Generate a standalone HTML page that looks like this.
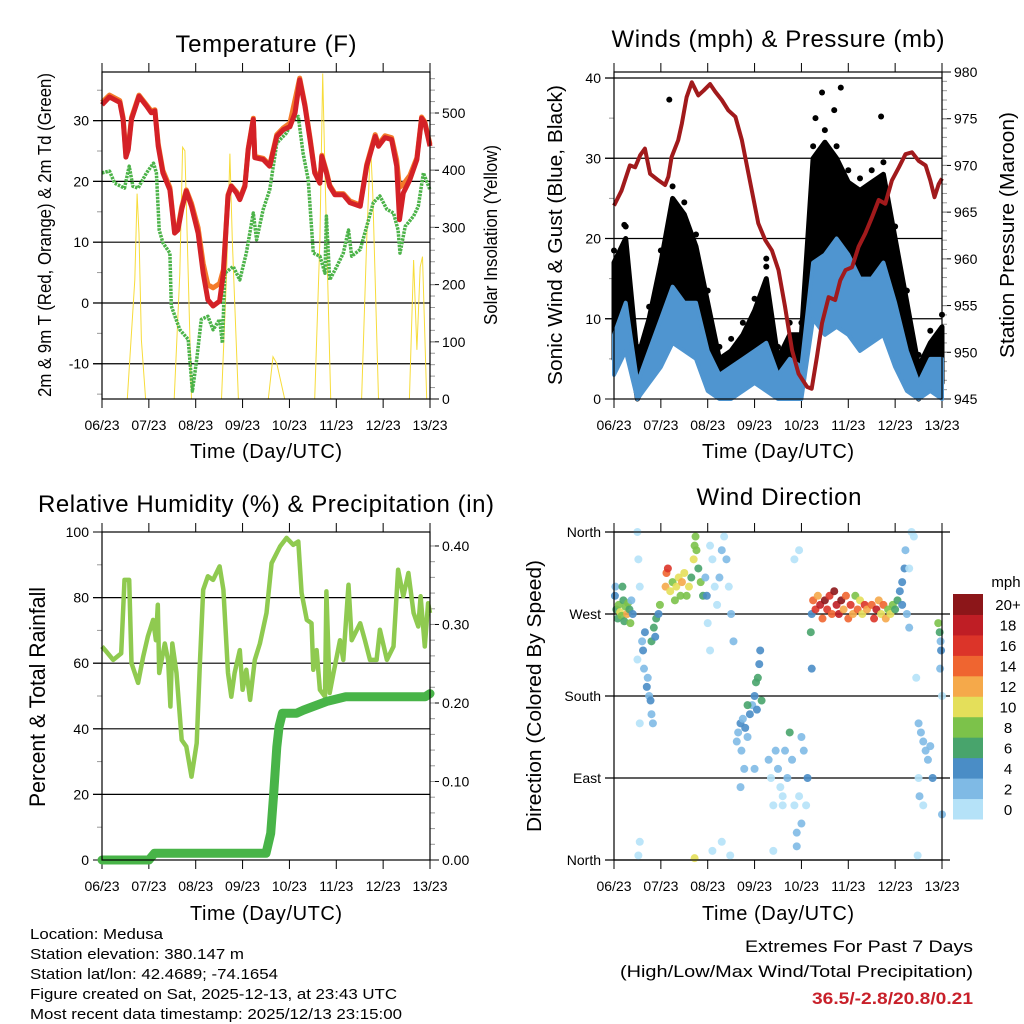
<!DOCTYPE html>
<html><head><meta charset="utf-8"><title>Station Meteogram</title>
<style>
html,body{margin:0;padding:0;background:#fff;}
#root{position:relative;width:1024px;height:1024px;overflow:hidden;font-family:"Liberation Sans",sans-serif;}
svg text{font-family:"Liberation Sans",sans-serif;fill:#000;}
</style></head>
<body>
<div id="root">
<svg id="svg" width="1024" height="1024" viewBox="0 0 1024 1024" xmlns="http://www.w3.org/2000/svg">
<text x="266" y="52" font-size="24" text-anchor="middle" textLength="181">Temperature (F)</text>
<text x="778" y="47" font-size="24" text-anchor="middle" textLength="333">Winds (mph) &amp; Pressure (mb)</text>
<text x="266" y="512" font-size="24" text-anchor="middle" textLength="456">Relative Humidity (%) &amp; Precipitation (in)</text>
<text x="779" y="505" font-size="24" text-anchor="middle" textLength="165">Wind Direction</text>

<text x="266" y="458" font-size="20" text-anchor="middle" textLength="152">Time (Day/UTC)</text>
<text x="778" y="458" font-size="20" text-anchor="middle" textLength="152">Time (Day/UTC)</text>
<text x="266" y="920" font-size="20" text-anchor="middle" textLength="152">Time (Day/UTC)</text>
<text x="778" y="920" font-size="20" text-anchor="middle" textLength="152">Time (Day/UTC)</text>

<text transform="translate(51,235) rotate(-90)" font-size="18" text-anchor="middle" textLength="324" lengthAdjust="spacingAndGlyphs">2m &amp; 9m T (Red, Orange) &amp; 2m Td (Green)</text>
<text transform="translate(497,235) rotate(-90)" font-size="18" text-anchor="middle" textLength="180" lengthAdjust="spacingAndGlyphs">Solar Insolation (Yellow)</text>
<text transform="translate(562,235) rotate(-90)" font-size="20" text-anchor="middle" textLength="300" lengthAdjust="spacingAndGlyphs">Sonic Wind &amp; Gust (Blue, Black)</text>
<text transform="translate(1014,235) rotate(-90)" font-size="20" text-anchor="middle" textLength="246" lengthAdjust="spacingAndGlyphs">Station Pressure (Maroon)</text>
<text transform="translate(45,697) rotate(-90)" font-size="22" text-anchor="middle" textLength="220" lengthAdjust="spacingAndGlyphs">Percent &amp; Total Rainfall</text>
<text transform="translate(541,696) rotate(-90)" font-size="20" text-anchor="middle" textLength="272" lengthAdjust="spacingAndGlyphs">Direction (Colored By Speed)</text>

<g font-size="15">
<text x="30" y="939" textLength="133" lengthAdjust="spacingAndGlyphs">Location: Medusa</text>
<text x="30" y="959" textLength="214" lengthAdjust="spacingAndGlyphs">Station elevation: 380.147 m</text>
<text x="30" y="979" textLength="248" lengthAdjust="spacingAndGlyphs">Station lat/lon: 42.4689; -74.1654</text>
<text x="30" y="999" textLength="367" lengthAdjust="spacingAndGlyphs">Figure created on Sat, 2025-12-13, at 23:43 UTC</text>
<text x="30" y="1019" textLength="372" lengthAdjust="spacingAndGlyphs">Most recent data timestamp: 2025/12/13 23:15:00</text>
</g>
<text x="973" y="952" font-size="17" text-anchor="end" textLength="228" lengthAdjust="spacingAndGlyphs">Extremes For Past 7 Days</text>
<text x="973" y="977" font-size="17" text-anchor="end" textLength="353" lengthAdjust="spacingAndGlyphs">(High/Low/Max Wind/Total Precipitation)</text>
<text x="973" y="1004" font-size="17" font-weight="bold" text-anchor="end" style="fill:#c8202a" textLength="161" lengthAdjust="spacingAndGlyphs">36.5/-2.8/20.8/0.21</text>
</svg>
</div>
<script>
// ---------- data ----------
const dayLabels = ['06/23','07/23','08/23','09/23','10/23','11/23','12/23','13/23'];

const tempTimes = [0,0.16,0.38,0.45,0.51,0.56,0.63,0.79,0.95,1.05,1.13,1.20,1.30,1.45,1.55,1.62,1.70,1.80,1.91,2.05,2.16,2.26,2.37,2.51,2.59,2.69,2.76,2.87,2.94,3.05,3.12,3.23,3.26,3.44,3.58,3.73,3.87,4.01,4.12,4.22,4.33,4.44,4.54,4.65,4.69,4.79,4.86,4.97,5.15,5.29,5.51,5.65,5.83,5.90,6.04,6.18,6.29,6.35,6.43,6.57,6.72,6.82,6.89,7.0];
const temp2m = [32.6,33.9,33,30.2,24,25.2,30.2,34,32.4,31.3,31.6,25.8,21.4,18.6,11.5,12,15.4,18.4,15.9,11.5,4.9,0.5,-0.5,0.3,4.9,17.6,19.2,18.1,17,19.2,25.2,30.2,23.9,23.6,22.5,27.4,28.5,29,31.3,36.7,32.4,26.9,21.4,19.7,24.1,21.4,19.2,17.8,17.8,16.5,15.9,22.5,27.4,25.8,27.2,26.9,22.5,13.7,18.1,20.3,23.6,30.4,29.6,25.8];
const temp9m = [33,34.2,33.3,30.5,24.5,25.5,30.5,34.2,32.6,31.6,31.8,26.2,21.8,19,11.8,12.3,15.8,18.6,16.4,12.4,6.5,3,2.5,3.2,5.5,17.8,19.3,18.3,17.2,19.4,25.4,30.4,24.1,23.8,22.7,27.7,28.8,29.6,33.5,37,32.7,27.2,21.7,20,24.3,21.7,19.4,18,18,16.8,16.1,22.8,27.7,26.1,27.5,27.2,23.5,19,19.5,21,23.9,30.6,29.8,26.1];

const dewTimes = [0,0.16,0.27,0.48,0.58,0.66,0.77,0.95,1.10,1.16,1.22,1.30,1.45,1.48,1.66,1.84,1.93,2.02,2.12,2.26,2.37,2.51,2.57,2.62,2.80,2.94,3.08,3.23,3.30,3.44,3.58,3.73,3.94,4.08,4.19,4.29,4.40,4.51,4.65,4.76,4.79,4.86,5.01,5.15,5.26,5.33,5.51,5.65,5.79,5.93,6.08,6.22,6.32,6.36,6.47,6.65,6.75,6.86,7.0];
const dew2m = [21.4,21.7,19.7,18.9,22.5,19.2,18.9,21.4,23,21.4,12,9.9,8.2,-0.5,-4.4,-6,-14.5,-9.3,-2.7,-2.2,-4.4,-2.7,-6.6,4.9,6,3.8,8.2,14.8,10.4,15.4,18.6,26.3,28,30.2,30.7,24.7,20.3,8.2,7.7,4.9,14.3,3.8,6,8.2,12,7.7,8.8,12.6,16.5,17.6,15.4,14.8,12,8.2,12.6,14.3,15.9,21.4,18.6];

const solarTimes = [0,0.54,0.65,0.70,0.75,0.79,0.84,0.93,1.54,1.66,1.72,1.77,1.84,1.91,2.55,2.66,2.73,2.78,2.91,3.55,3.65,3.73,3.90,4.54,4.65,4.71,4.76,4.88,5.54,5.65,5.73,5.78,5.90,6.56,6.65,6.72,6.79,6.84,6.93,7.0];
const solarVals = [0,0,144,208,359,289,103,0,0,219,440,434,219,0,0,219,429,278,0,0,74,62,0,0,278,569,394,0,0,278,446,358,0,0,243,86,231,249,0,0];

const windTimes = [0,0.25,0.5,0.75,1.0,1.25,1.5,1.75,2.0,2.25,2.5,2.75,3.0,3.25,3.5,3.75,4.0,4.25,4.5,4.75,5.0,5.25,5.5,5.75,6.0,6.25,6.5,6.75,7.0];
const gustLow = [5,9,0,3,7,12,13,10,3,1,2,3,4,4,1,2,2,17,18,17,16,14,14,15,8,4,0,3,2];
const gustHigh = [17,20,5,10,17,25,23,19,12,5,6,8,11,15,5,8,8,30,32,30,27,26,27,28,20,12,4,7,9];
const windLow = [3,6,0,2,4,7,6,5,1,0,0,1,2,1,0,0,0,10,8,9,8,6,7,8,4,1,0,1,0];
const windHigh = [8,12,2,6,10,14,12,12,6,3,4,5,6,7,3,5,4,17,18,20,18,15,15,17,12,6,2,5,5];
const gustOutlierTimes = [1.18,4.44,4.84,4.70,5.70,4.30,0.22,3.25];
const gustOutlierVals = [37.3,38.2,38.8,36,35.2,35,21.7,17.5];

const presTimes = [0,0.16,0.34,0.45,0.56,0.66,0.77,0.95,1.09,1.16,1.23,1.37,1.45,1.55,1.66,1.80,1.91,2.05,2.16,2.30,2.44,2.59,2.73,2.87,3.08,3.23,3.37,3.51,3.65,3.80,3.94,4.12,4.22,4.33,4.44,4.58,4.72,4.83,4.94,5.08,5.22,5.36,5.51,5.65,5.79,5.93,6.08,6.22,6.36,6.50,6.65,6.75,6.84,6.93,7.0];
const presVals = [965.7,967.3,970.0,969.8,971.1,971.8,969.1,968.4,967.9,968.8,970.9,972.7,974.5,977.3,978.9,977.5,978.0,978.7,977.9,977.0,975.9,975.2,972.7,969.1,963.8,962.0,960.9,958.8,954.9,950.2,947.7,946.3,946.1,949.5,953.1,955.9,955.6,957.7,958.8,959.1,961.3,962.7,964.5,966.3,965.9,968.4,969.8,971.2,971.4,970.5,970.0,968.4,966.6,968.0,968.6];

const rhTimes = [0,0.09,0.24,0.41,0.48,0.58,0.63,0.77,0.88,0.98,1.09,1.15,1.19,1.22,1.34,1.41,1.46,1.50,1.59,1.70,1.80,1.91,2.02,2.09,2.16,2.26,2.37,2.51,2.59,2.69,2.76,2.83,2.94,3.0,3.08,3.16,3.26,3.37,3.51,3.62,3.80,3.94,4.08,4.19,4.26,4.37,4.47,4.51,4.58,4.65,4.76,4.79,4.86,4.94,5.08,5.15,5.26,5.33,5.51,5.61,5.72,5.86,5.93,6.08,6.22,6.32,6.43,6.54,6.65,6.75,6.80,6.89,6.96,7.0];
const rhVals = [65.1,63.6,61,63,85.4,85.4,60,54,62,68.2,73.2,67,77.8,57,66,61,46.8,66,57,36.6,34.6,25.4,35.6,60,82.4,86.5,85.4,89.5,82.4,57,49.8,57,64,51.9,58,48.8,61,66,75.3,90.5,95.6,98.2,96.1,97.1,81.4,73.2,72.2,58,64,51.9,49.8,81.9,50.9,57,67,61,83.9,67,72.2,67,61,61,70.2,61,65.1,88.5,80.4,87.5,75.3,71.2,80.4,65.1,78.3,75.3];

const precipTimes = [0,1.0,1.12,3.5,3.6,3.66,3.73,3.78,3.85,3.95,4.15,4.3,4.8,5.2,6.9,7.0];
const precipVals = [0,0,0.0085,0.0085,0.034,0.081,0.144,0.17,0.187,0.187,0.187,0.191,0.202,0.208,0.208,0.212];

const dirTimes = [0.02,0.05,0.08,0.1,0.13,0.16,0.2,0.22,0.25,0.28,0.3,0.33,0.37,0.4,0.03,0.18,0.35,
0.5,0.52,0.55,0.5,0.6,0.62,0.64,0.66,0.7,0.72,0.75,0.78,0.8,0.83,0.8,0.85,0.9,0.95,0.98,0.88,0.55,0.55,0.52,
1.1,1.12,1.15,1.2,1.25,1.3,1.33,1.38,1.42,1.45,1.5,1.55,1.6,1.65,1.7,1.72,1.74,1.76,1.8,1.85,1.9,1.95,1.98,1.72,
2.0,2.05,2.1,2.15,2.2,2.25,2.3,2.35,2.4,2.45,2.5,2.55,2.05,2.1,2.3,2.48,
2.62,2.65,2.7,2.75,2.8,2.85,2.9,2.95,2.72,2.78,2.85,3.0,3.03,3.07,3.1,3.12,3.15,3.05,3.0,2.7,
3.3,3.35,3.4,3.45,3.5,3.55,3.6,3.65,3.7,3.75,3.8,3.85,3.9,3.95,4.0,4.05,4.1,4.13,3.4,3.9,3.95,3.85,4.0,3.6,
4.22,4.25,4.3,4.35,4.4,4.45,4.5,4.55,4.6,4.65,4.7,4.75,4.8,4.85,4.9,4.95,5.0,5.05,5.1,5.15,5.2,5.25,5.3,5.35,5.4,5.5,5.55,5.6,5.65,5.7,5.75,5.8,5.85,5.9,5.95,4.2,4.22,
6.0,6.05,6.1,6.15,6.2,6.22,6.15,6.25,6.3,6.3,6.35,6.4,
6.5,6.55,6.6,6.65,6.7,6.75,6.5,6.52,6.6,6.45,6.8,6.48,
6.92,6.95,6.97,6.98,6.96,7.0,7.0];
const dirDegrees = [290,275,265,280,272,268,285,262,278,270,282,275,285,270,300,300,260,
360,330,300,220,240,230,210,250,190,200,180,175,160,150,240,255,265,270,280,245,150,20,5,
300,315,320,295,305,285,300,310,290,305,315,290,300,310,330,345,355,340,320,305,290,310,290,2,
260,345,330,300,280,310,340,355,330,300,270,240,230,10,20,5,
130,140,150,155,145,135,160,170,120,100,170,180,195,200,215,230,175,165,100,80,
110,90,60,120,100,80,70,120,90,140,110,60,30,70,40,120,60,90,10,15,340,330,135,60,
270,285,275,290,280,265,285,275,290,270,295,280,270,285,275,290,265,280,270,290,275,285,270,280,275,280,265,275,285,270,280,265,275,270,280,250,210,
275,285,295,305,320,340,280,270,255,320,360,355,
150,140,130,120,110,125,90,70,60,200,90,5,
260,250,240,230,210,180,50];
const dirSpeeds = [4,6,7,8,10,8,6,7,9,12,8,7,3,4,3,6,8,
0,1,0,1,3,4,3,4,4,2,3,4,3,3,6,7,6,4,8,5,0,1,0,
12,14,17,11,9,8,10,11,9,13,10,8,11,7,10,8,8,8,6,8,7,3,4,10,
1,0,0,1,1,3,2,1,2,1,2,2,0,0,0,1,
2,3,4,3,4,3,4,3,2,2,6,5,6,6,4,4,7,5,2,2,
2,1,1,3,2,1,1,3,2,6,3,1,2,1,2,3,1,4,1,2,0,0,2,1,
5,14,16,12,18,15,20,17,16,14,20,19,18,20,13,15,14,16,12,8,14,11,10,16,13,14,17,18,12,10,15,12,9,10,8,6,4,
7,6,4,4,4,3,4,2,2,1,0,1,
2,2,2,2,3,2,1,2,1,1,4,1,
8,7,3,4,2,1,3];

const speedLabels = ['0','2','4','6','8','10','12','14','16','18','20+'];
const speedColors = ['#b5e2f8','#7fbae5','#4a8dc6','#48a46c','#7cc24a','#e4df5a','#f5a94a','#ef6530','#dc3429','#bf1e25','#8c1619'];

// ---------- helpers ----------
const NS = 'http://www.w3.org/2000/svg';
const svg = document.getElementById('svg');
function mk(tag, attrs, parent) {
  const el = document.createElementNS(NS, tag);
  for (const k in attrs) el.setAttribute(k, attrs[k]);
  (parent || svg).appendChild(el);
  return el;
}
function scaleX(p, d) { return p.x0 + (p.x1 - p.x0) * d / 7; }
function scaleY(p, v, lo, hi) { return p.y1 - (p.y1 - p.y0) * (v - lo) / (hi - lo); }
function pathFrom(p, ts, vs, lo, hi) {
  let s = '';
  for (let i = 0; i < ts.length; i++) {
    s += (i ? 'L' : 'M') + scaleX(p, ts[i]).toFixed(1) + ',' + scaleY(p, vs[i], lo, hi).toFixed(1);
  }
  return s;
}
function bandFrom(p, ts, los, his, lo, hi) {
  let s = '';
  for (let i = 0; i < ts.length; i++) s += (i ? 'L' : 'M') + scaleX(p, ts[i]).toFixed(1) + ',' + scaleY(p, his[i], lo, hi).toFixed(1);
  for (let i = ts.length - 1; i >= 0; i--) s += 'L' + scaleX(p, ts[i]).toFixed(1) + ',' + scaleY(p, los[i], lo, hi).toFixed(1);
  return s + 'Z';
}

function drawAxes(p, name) {
  const g = mk('g', {});
  
  
  p.grid.forEach(v => {
    const y = scaleY(p, v, p.lo, p.hi);
    const gl = mk('line', {x1: p.x0 - 9, x2: p.x1 + (p.gridRight || 0), y1: y, y2: y, stroke: '#000', 'stroke-width': 1.2}, g);
    
    
  });
  for (let i = 0; i < dayLabels.length; i++) {
    const x = scaleX(p, i);
    const tb = mk('line', {x1: x, x2: x, y1: p.y1, y2: p.y1 + 9, stroke: '#000', 'stroke-width': 1}, g);
    
    
    const tt = mk('line', {x1: x, x2: x, y1: p.y0, y2: p.y0 - 9, stroke: '#000', 'stroke-width': 1}, g);
    
    
    const lb = mk('text', {x: x, y: p.y1 + 31, 'font-size': 14, 'text-anchor': 'middle'}, g);
    
    
    lb.textContent = dayLabels[i];
  }
  p.leftTicks.forEach((v, i) => {
    const y = scaleY(p, v, p.lo, p.hi);
    const t = mk('line', {x1: p.x0 - 9, x2: p.x0, y1: y, y2: y, stroke: '#000', 'stroke-width': 1}, g);
    
    
    const lb = mk('text', {x: p.x0 - 13, y: y + 5, 'font-size': 14, 'text-anchor': 'end'}, g);
    
    
    lb.textContent = p.leftLabels[i];
  });
  (p.leftMinor || []).forEach(v => {
    const y = scaleY(p, v, p.lo, p.hi);
    const t = mk('line', {x1: p.x0 - 5, x2: p.x0, y1: y, y2: y, stroke: '#999', 'stroke-width': 1}, g);
    
    
  });
  if (p.rightTicks) {
    p.rightTicks.forEach((v, i) => {
      const y = scaleY(p, v, p.rlo, p.rhi);
      const t = mk('line', {x1: p.x1, x2: p.x1 + 9, y1: y, y2: y, stroke: '#000', 'stroke-width': 1}, g);
      
      
      const lb = mk('text', {x: p.x1 + 12, y: y + 5, 'font-size': 14, 'text-anchor': 'start'}, g);
      
      
      lb.textContent = p.rightLabels[i];
    });
    (p.rightMinor || []).forEach(v => {
      const y = scaleY(p, v, p.rlo, p.rhi);
      const t = mk('line', {x1: p.x1, x2: p.x1 + 5, y1: y, y2: y, stroke: '#999', 'stroke-width': 1}, g);
      
      
    });
  }
}
function drawFrame(p, name) {
  const f = mk('rect', {x: p.x0, y: p.y0, width: p.x1 - p.x0, height: p.y1 - p.y0, fill: 'none', stroke: '#000', 'stroke-width': 1.2});
  
  
}
function range(a, b, s) { const r = []; for (let v = a; v <= b + 1e-9; v += s) r.push(+v.toFixed(4)); return r; }

// ---------- panel 1: temperature ----------
const P1 = {x0: 102, x1: 430, y0: 72, y1: 399, lo: -15.8, hi: 38, rlo: 0, rhi: 571.7,
  grid: [-10, 0, 10, 20, 30], leftTicks: [-10, 0, 10, 20, 30], leftLabels: ['-10','0','10','20','30'],
  leftMinor: [-15, -5, 5, 15, 25, 35], rightTicks: [0,100,200,300,400,500], rightLabels: ['0','100','200','300','400','500'],
  rightMinor: range(20, 560, 20)};
drawAxes(P1, 'temperature');
const solar = mk('path', {d: pathFrom(P1, solarTimes, solarVals, P1.rlo, P1.rhi), fill: 'none', stroke: '#f7dc3a', 'stroke-width': 1});


const dewL = mk('path', {d: pathFrom(P1, dewTimes, dew2m, P1.lo, P1.hi), fill: 'none', stroke: '#4cb349', 'stroke-width': 3.5, 'stroke-dasharray': '2.5 1', 'stroke-linejoin': 'round'});


const t9 = mk('path', {d: pathFrom(P1, tempTimes, temp9m, P1.lo, P1.hi), fill: 'none', stroke: '#f47a2a', 'stroke-width': 5, 'stroke-linejoin': 'round'});


const t2 = mk('path', {d: pathFrom(P1, tempTimes, temp2m, P1.lo, P1.hi), fill: 'none', stroke: '#d42127', 'stroke-width': 5, 'stroke-linejoin': 'round'});


drawFrame(P1, 'temperature');

// ---------- panel 2: winds ----------
const P2 = {x0: 614, x1: 942, y0: 72, y1: 399, lo: 0, hi: 40.75, rlo: 945, rhi: 980,
  grid: [10, 20, 30, 40], leftTicks: [0, 10, 20, 30, 40], leftLabels: ['0','10','20','30','40'],
  leftMinor: [5, 15, 25, 35], rightTicks: [945,950,955,960,965,970,975,980], rightLabels: ['945','950','955','960','965','970','975','980'],
  rightMinor: range(946, 979, 1)};
drawAxes(P2, 'winds');
const gb = mk('path', {d: bandFrom(P2, windTimes, gustLow, gustHigh, P2.lo, P2.hi), fill: '#000', stroke: '#000', 'stroke-width': 5, 'stroke-linejoin': 'round'});


for (let i = 0; i < windTimes.length; i++) {
  const c = mk('circle', {cx: scaleX(P2, windTimes[i]), cy: scaleY(P2, gustHigh[i] + 1.5, P2.lo, P2.hi), r: 3, fill: '#000'});
  
  
}
for (let i = 0; i < gustOutlierTimes.length; i++) {
  const c = mk('circle', {cx: scaleX(P2, gustOutlierTimes[i]), cy: scaleY(P2, gustOutlierVals[i], P2.lo, P2.hi), r: 3, fill: '#000'});
  
  
}
const wb = mk('path', {d: bandFrom(P2, windTimes, windLow, windHigh, P2.lo, P2.hi), fill: '#4f95d0', stroke: '#4f95d0', 'stroke-width': 4, 'stroke-linejoin': 'round'});


const pres = mk('path', {d: pathFrom(P2, presTimes, presVals, P2.rlo, P2.rhi), fill: 'none', stroke: '#a11a1c', 'stroke-width': 4, 'stroke-linejoin': 'round'});


drawFrame(P2, 'winds');

// ---------- panel 3: humidity ----------
const P3 = {x0: 102, x1: 430, y0: 532, y1: 860, lo: 0, hi: 100, rlo: 0, rhi: 0.4178,
  grid: [20, 40, 60, 80], leftTicks: [0, 20, 40, 60, 80, 100], leftLabels: ['0','20','40','60','80','100'],
  leftMinor: [10, 30, 50, 70, 90], rightTicks: [0, 0.1, 0.2, 0.3, 0.4], rightLabels: ['0.00','0.10','0.20','0.30','0.40'],
  rightMinor: range(0.02, 0.40, 0.02)};
drawAxes(P3, 'humidity');
const rh = mk('path', {d: pathFrom(P3, rhTimes, rhVals, P3.lo, P3.hi), fill: 'none', stroke: '#8fca50', 'stroke-width': 4.5, 'stroke-linejoin': 'round'});


const pr = mk('path', {d: pathFrom(P3, precipTimes, precipVals, P3.rlo, P3.rhi), fill: 'none', stroke: '#48b448', 'stroke-width': 9, 'stroke-linejoin': 'round', 'stroke-linecap': 'round'});


drawFrame(P3, 'humidity');

// ---------- panel 4: direction ----------
const P4 = {x0: 614, x1: 942, y0: 532, y1: 860, lo: 0, hi: 360, gridRight: 8,
  grid: [0, 90, 180, 270, 360], leftTicks: [0, 90, 180, 270, 360], leftLabels: ['North','East','South','West','North']};
drawAxes(P4, 'direction');
for (let i = 0; i < dirTimes.length; i++) {
  const idx = Math.min(10, Math.floor(dirSpeeds[i] / 2));
  const c = mk('circle', {cx: scaleX(P4, dirTimes[i]), cy: scaleY(P4, dirDegrees[i], P4.lo, P4.hi), r: 4, fill: speedColors[idx], 'fill-opacity': 0.9});
  
  
}
drawFrame(P4, 'direction');

// colorbar
const cbTop = 594, cbBot = 819, cbX = 953, cbW = 30;
const cbH = (cbBot - cbTop) / speedColors.length;
for (let i = 0; i < speedColors.length; i++) {
  const y = cbBot - (i + 1) * cbH;
  const r = mk('rect', {x: cbX, y: y, width: cbW, height: cbH + 0.5, fill: speedColors[i]});
  
  
  const t = mk('text', {x: 1008, y: y + cbH / 2 + 6, 'font-size': 15, 'text-anchor': 'middle'});
  
  
  t.textContent = speedLabels[i];
}
const mph = mk('text', {x: 1006, y: 587, 'font-size': 15, 'text-anchor': 'middle'});


mph.textContent = 'mph';
</script>
</body></html>
